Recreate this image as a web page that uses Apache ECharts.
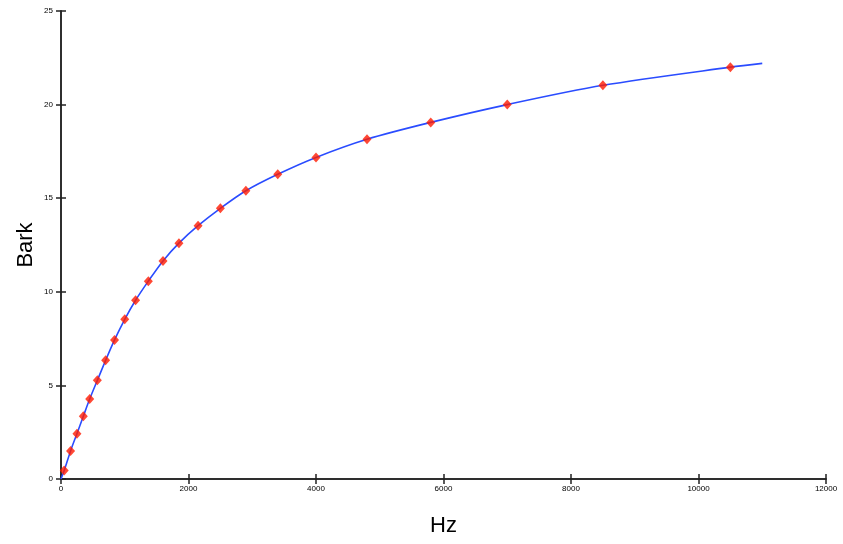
<!DOCTYPE html>
<html>
<head>
<meta charset="utf-8">
<script src="https://cdn.jsdelivr.net/npm/echarts@6/dist/echarts.min.js"></script>
<style>
  html, body { margin: 0; padding: 0; background: #fff; }
  #main { width: 843px; height: 544px; }
</style>
</head>
<body>
<div id="main"></div>
<script>
const bandHz = [50, 150, 250, 350, 450, 570, 700, 840, 1000, 1170, 1370, 1600, 1850, 2150, 2500, 2900, 3400, 4000, 4800, 5800, 7000, 8500, 10500]
const bandBark = [0.45, 1.5, 2.42, 3.35, 4.27, 5.27, 6.34, 7.43, 8.53, 9.55, 10.57, 11.65, 12.6, 13.53, 14.46, 15.4, 16.28, 17.18, 18.15, 19.05, 20.0, 21.03, 22.0]
// points
const curveHz = [0, 50, 150, 250, 350, 450, 570, 700, 840, 1000, 1170, 1370, 1600, 1850, 2150, 2500, 2900, 3400, 4000, 4800, 5800, 7000, 8500, 10500, 11000]
const curveBark = [0, 0.45, 1.5, 2.42, 3.35, 4.27, 5.27, 6.34, 7.43, 8.53, 9.55, 10.57, 11.65, 12.6, 13.53, 14.46, 15.4, 16.28, 17.18, 18.15, 19.05, 20.0, 21.03, 22.0, 22.2]
const xTicks = [0, 2000, 4000, 6000, 8000, 10000, 12000]

var myChart = echarts.init(document.getElementById('main'))

const axisLine = { show: true, lineStyle: { color: '#222', width: 1.5 } }
const tickStyle = { show: true, inside: true, length: 5, lineStyle: { color: '#222', width: 1.5 } }
const tickFont = { fontFamily: 'Liberation Sans', fontSize: 8, color: '#000' }

myChart.setOption({
  animation: false,
  grid: {
    left: 61, right: 17, top: 11, bottom: 65,
    containLabel: false,
    outerBoundsMode: 'none'
  },
  xAxis: [{
    type: 'value',
    min: 0, max: 12000, interval: 2000,
    name: 'Hz',
    nameLocation: 'middle',
    nameGap: 36,
    nameMoveOverlap: false,
    nameTextStyle: { fontFamily: 'Liberation Sans', fontSize: 22, color: '#000' },
    axisLine: axisLine,
    axisTick: tickStyle,
    axisLabel: Object.assign({ margin: 6, formatter: v => xTicks.includes(v) ? String(v) : '' }, tickFont),
    splitLine: { show: false }
  }, {
    type: 'value',
    position: 'top',
    min: 0, max: 12000, interval: 2000,
    axisLine: axisLine,
    axisTick: tickStyle,
    axisLabel: { show: false },
    splitLine: { show: false }
  }],
  yAxis: [{
    type: 'value',
    min: 0, max: 25, interval: 5,
    name: 'Bark',
    nameLocation: 'middle',
    nameGap: 24,
    nameMoveOverlap: false,
    nameTextStyle: { fontFamily: 'Liberation Sans', fontSize: 22, color: '#000' },
    axisLine: axisLine,
    axisTick: tickStyle,
    axisLabel: Object.assign({ margin: 8 }, tickFont),
    splitLine: { show: false }
  }, {
    type: 'value',
    position: 'right',
    min: 0, max: 25, interval: 5,
    axisLine: axisLine,
    axisTick: tickStyle,
    axisLabel: { show: false },
    splitLine: { show: false }
  }],
  series: [{
    type: 'line',
    data: curveHz.map((h, i) => [h, curveBark[i]]),
    smooth: 0.3,
    showSymbol: false,
    lineStyle: { color: '#2a4cff', width: 1.6 },
    z: 2
  }, {
    type: 'scatter',
    data: bandHz.map((h, i) => [h, bandBark[i]]),
    symbol: 'diamond',
    symbolSize: [9, 10],
    itemStyle: { color: '#ff1a00' },
    z: 3
  }]
})
</script>
</body>
</html>
